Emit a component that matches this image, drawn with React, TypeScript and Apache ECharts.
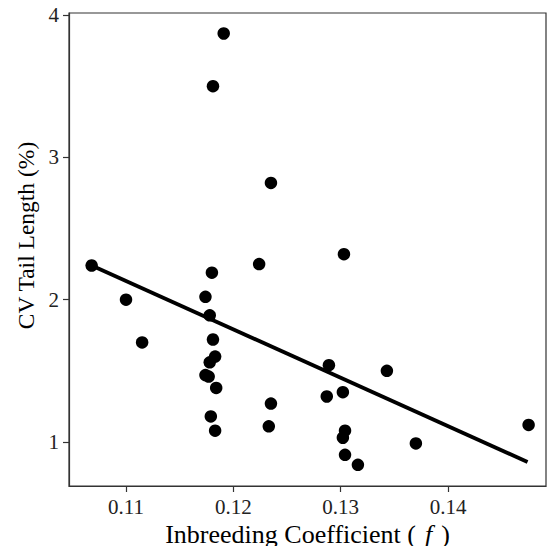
import React, { useEffect, useRef } from "react";
import * as echarts from "echarts";

const inbreeding: number[] = [
  0.1068, 0.11, 0.1115, 0.1191, 0.1181, 0.1235, 0.118, 0.1174, 0.1178, 0.1181,
  0.1183, 0.1178, 0.1174, 0.1177, 0.1184, 0.1179, 0.1183, 0.1224, 0.1235, 0.1233,
  0.1303, 0.1289, 0.1287, 0.1302, 0.1304, 0.1302, 0.1304, 0.1316, 0.1343, 0.137,
  0.1475,
];
const cvTail: number[] = [
  2.24, 2.0, 1.7, 3.87, 3.5, 2.82, 2.19, 2.02, 1.89, 1.72,
  1.6, 1.56, 1.47, 1.46, 1.38, 1.18, 1.08, 2.25, 1.27, 1.11,
  2.32, 1.54, 1.32, 1.35, 1.08, 1.03, 0.91, 0.84, 1.5, 0.99,
  1.12,
];
const fitX: number[] = [0.1068, 0.1474];
const fitY: number[] = [2.24, 0.86];
const xTicks: number[] = [0.11, 0.12, 0.13, 0.14];
const yTicks: number[] = [1, 2, 3, 4];

const FONT = "Liberation Serif";

export default function App() {
  const ref = useRef<HTMLDivElement>(null);
  useEffect(() => {
    if (!ref.current) return;
    const chart = echarts.init(ref.current, undefined, { renderer: "svg" });
    const points = inbreeding.map((x, i) => [x, cvTail[i]]);
    const fit = fitX.map((x, i) => [x, fitY[i]]);
    chart.setOption({
      animation: false,
      backgroundColor: "#ffffff",
      grid: {
        left: 69,
        top: 13,
        right: 1,
        bottom: 60,
        containLabel: false,
        outerBoundsMode: "none",
        show: true,
        borderColor: "#333333",
        borderWidth: 1.2,
      },
      xAxis: {
        type: "value",
        min: 0.10469,
        max: 0.14912,
        name: "Inbreeding Coefficient ({i|f})",
        nameLocation: "middle",
        nameGap: 33,
        nameTextStyle: {
          fontFamily: FONT,
          fontSize: 26,
          color: "#000",
          rich: {
            i: {
              fontFamily: FONT,
              fontSize: 26,
              fontStyle: "italic",
              color: "#000",
              padding: [0, 9, 0, 9],
            },
          },
        },
        splitLine: { show: false },
        axisLine: { show: true, onZero: false, lineStyle: { color: "#333", width: 1.2 } },
        axisTick: { show: true, length: 6, customValues: xTicks, lineStyle: { color: "#333", width: 1.2 } },
        axisLabel: {
          customValues: xTicks,
          fontFamily: FONT,
          fontSize: 21,
          color: "#222",
          margin: 10,
          formatter: (v: number) => v.toFixed(2),
        },
      },
      yAxis: {
        type: "value",
        min: 0.691,
        max: 4.014,
        name: "CV Tail Length (%)",
        nameLocation: "middle",
        nameRotate: 90,
        nameGap: 26,
        nameTextStyle: { fontFamily: FONT, fontSize: 23.5, color: "#000", padding: [0, 0, 0, 28] },
        splitLine: { show: false },
        axisLine: { show: true, onZero: false, lineStyle: { color: "#333", width: 1.2 } },
        axisTick: { show: true, length: 6, customValues: yTicks, lineStyle: { color: "#333", width: 1.2 } },
        axisLabel: {
          customValues: yTicks,
          fontFamily: FONT,
          fontSize: 21,
          color: "#222",
          margin: 10,
        },
      },
      series: [
        {
          type: "scatter",
          data: points,
          symbol: "circle",
          symbolSize: 12.5,
          itemStyle: { color: "#000", opacity: 1 },
          z: 3,
        },
        {
          type: "line",
          data: fit,
          showSymbol: false,
          symbol: "none",
          lineStyle: { color: "#000", width: 3.8 },
          z: 4,
        },
      ],
    });
    return () => chart.dispose();
  }, []);
  return (
    <div
      ref={ref}
      style={{ position: "fixed", left: 0, top: 0, width: 547, height: 546, background: "#fff" }}
    />
  );
}
